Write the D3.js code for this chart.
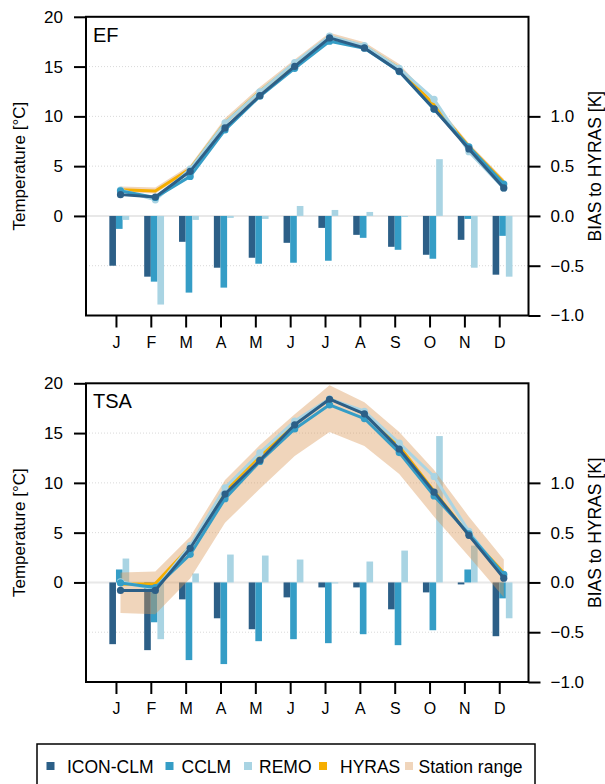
<!DOCTYPE html>
<html><head><meta charset="utf-8">
<script src="https://cdn.jsdelivr.net/npm/d3@7"></script>
<style>body{margin:0;background:#fff}svg{display:block;font-family:"Liberation Sans",Arial,sans-serif}</style>
</head><body><svg id="c" width="605" height="784"></svg>
<script>
const months = ["J","F","M","A","M","J","J","A","S","O","N","D"];
const tempTicks = [0,5,10,15,20];
const biasTicks = [-1.0,-0.5,0.0,0.5,1.0];
const seriesNames = ["ICON-CLM","CCLM","REMO","HYRAS","Station range"];

// EF panel
const efIcon  = [2.14, 1.90, 4.48, 8.84, 12.08, 15.03, 17.88, 16.87, 14.53, 10.75, 6.73, 2.81];
const efCclm  = [2.51, 1.85, 3.97, 8.64, 12.02, 14.83, 17.55, 16.84, 14.50, 10.71, 6.94, 3.20];
const efRemo  = [2.60, 1.62, 4.70, 9.34, 12.47, 15.40, 18.06, 17.10, 14.83, 11.71, 6.45, 2.79];
const efHyras = [2.64, 2.51, 4.74, 9.36, 12.50, 15.30, 18.00, 17.06, 14.84, 11.14, 6.97, 3.40];
const efStLow = [2.40, 2.25, 4.50, 9.10, 12.25, 15.05, 17.75, 16.80, 14.60, 10.90, 6.70, 3.15];
const efStHigh= [2.95, 2.85, 5.10, 9.80, 12.95, 15.70, 18.40, 17.45, 15.25, 11.50, 7.30, 3.70];
const efBiasIcon = [-0.50, -0.61, -0.26, -0.52, -0.42, -0.27, -0.12, -0.19, -0.31, -0.39, -0.24, -0.59];
const efBiasCclm = [-0.13, -0.66, -0.77, -0.72, -0.48, -0.47, -0.45, -0.22, -0.34, -0.43, -0.03, -0.20];
const efBiasRemo = [-0.04, -0.89, -0.04, -0.02, -0.03, 0.10, 0.06, 0.04, -0.01, 0.57, -0.52, -0.61];

// TSA panel
const tsaIcon  = [-0.80, -0.80, 3.43, 8.87, 12.27, 15.83, 18.40, 16.93, 13.40, 9.07, 4.73, 0.43];
const tsaCclm  = [-0.05, -0.52, 2.82, 8.41, 12.15, 15.41, 17.84, 16.46, 13.04, 8.69, 4.88, 0.81];
const tsaRemo  = [0.06, -0.69, 3.69, 9.51, 13.01, 16.21, 18.44, 17.19, 13.99, 10.64, 5.12, 0.61];
const tsaHyras = [-0.18, -0.12, 3.60, 9.23, 12.74, 15.98, 18.45, 16.98, 13.67, 9.17, 4.75, 0.97];
const tsaStLow = [-3.07, -3.20, 0.40, 6.00, 9.40, 12.70, 15.10, 13.70, 10.90, 6.60, 2.60, -1.50];
const tsaStHigh= [1.00, 1.10, 4.60, 10.30, 13.80, 16.90, 19.80, 18.10, 15.10, 11.30, 6.60, 2.30];
const tsaBiasIcon = [-0.62, -0.68, -0.17, -0.36, -0.47, -0.15, -0.05, -0.05, -0.27, -0.10, -0.02, -0.54];
const tsaBiasCclm = [0.13, -0.40, -0.78, -0.82, -0.59, -0.57, -0.61, -0.52, -0.63, -0.48, 0.13, -0.16];
const tsaBiasRemo = [0.24, -0.57, 0.09, 0.28, 0.27, 0.23, -0.01, 0.21, 0.32, 1.47, 0.37, -0.36];

const colors = {icon:"#2c5f87", cclm:"#359dc6", remo:"#a9d4e3", hyras:"#f6ae00", band:"#da9656"};

const panels = [
  {label:"EF", top:16.8, icon:efIcon, cclm:efCclm, remo:efRemo, hyras:efHyras, lo:efStLow, hi:efStHigh,
   bIcon:efBiasIcon, bCclm:efBiasCclm, bRemo:efBiasRemo},
  {label:"TSA", top:383.3, icon:tsaIcon, cclm:tsaCclm, remo:tsaRemo, hyras:tsaHyras, lo:tsaStLow, hi:tsaStHigh,
   bIcon:tsaBiasIcon, bCclm:tsaBiasCclm, bRemo:tsaBiasRemo}
];

const svg = d3.select("#c");
const left = 86, right = 528.5, ph = 298.7;
const x = d3.scaleLinear().domain([0.14, 12.84]).range([left, right]);
const bw = 0.19, ptOff = 0.13;
const idx = d3.range(12);
const FF = "Liberation Sans, Arial, sans-serif";

panels.forEach(p => {
  const g = svg.append("g");
  const yT = d3.scaleLinear().domain([-10, 20]).range([p.top + ph, p.top]);
  const yB = d3.scaleLinear().domain([-1, 2]).range([p.top + ph, p.top]);

  // grid
  [-5, 5, 10, 15].forEach(v => {
    g.append("line").attr("x1", left).attr("x2", right).attr("y1", yT(v)).attr("y2", yT(v))
      .attr("stroke", "#d9d9d9").attr("stroke-width", 1).attr("stroke-dasharray", "1,2");
  });
  g.append("line").attr("x1", left).attr("x2", right).attr("y1", yT(0)).attr("y2", yT(0))
    .attr("stroke", "#e8e8e8").attr("stroke-width", 2);

  // bars
  const bars = [[p.bIcon, colors.icon, -bw], [p.bCclm, colors.cclm, 0], [p.bRemo, colors.remo, bw]];
  bars.forEach(([vals, col, off]) => {
    g.selectAll(null).data(vals).join("rect")
      .attr("x", (d, i) => x(i + 1 + off))
      .attr("width", x(bw) - x(0))
      .attr("y", d => yB(Math.max(0, d)))
      .attr("height", d => Math.abs(yB(d) - yB(0)))
      .attr("fill", col);
  });

  // station band
  const area = d3.area().x(i => x(i + 1 + ptOff)).y0(i => yT(p.lo[i])).y1(i => yT(p.hi[i]));
  g.append("path").datum(idx).attr("d", area).attr("fill", colors.band).attr("fill-opacity", 0.4);

  // lines
  const line = vals => d3.line().x((d, i) => x(i + 1 + ptOff)).y(d => yT(d))(vals);
  g.append("path").attr("d", line(p.hyras)).attr("fill", "none").attr("stroke", colors.hyras).attr("stroke-width", 3);
  [[p.remo, colors.remo], [p.cclm, colors.cclm], [p.icon, colors.icon]].forEach(([vals, col]) => {
    g.append("path").attr("d", line(vals)).attr("fill", "none").attr("stroke", col).attr("stroke-width", 3)
      .attr("stroke-linejoin", "round");
    g.selectAll(null).data(vals).join("circle")
      .attr("cx", (d, i) => x(i + 1 + ptOff)).attr("cy", d => yT(d)).attr("r", 3.6).attr("fill", col);
  });

  // box
  g.append("rect").attr("x", left).attr("y", p.top).attr("width", right - left).attr("height", ph)
    .attr("fill", "none").attr("stroke", "#000").attr("stroke-width", 2);

  // left axis
  const la = d3.axisLeft(yT).tickValues(tempTicks).tickSize(12).tickPadding(11).tickFormat(d3.format("d"));
  const lg = g.append("g").attr("transform", `translate(${left},0)`).call(la);
  lg.select(".domain").remove();
  lg.selectAll(".tick line").attr("stroke", "#000").attr("stroke-width", 2);
  lg.selectAll(".tick text").attr("font-size", 17).attr("fill", "#000").attr("font-family", FF);

  // right axis
  const ra = d3.axisRight(yB).tickValues(biasTicks).tickSize(12).tickPadding(10).tickFormat(d3.format(".1f"));
  const rg = g.append("g").attr("transform", `translate(${right},0)`).call(ra);
  rg.select(".domain").remove();
  rg.selectAll(".tick line").attr("stroke", "#000").attr("stroke-width", 2);
  rg.selectAll(".tick text").attr("font-size", 17).attr("fill", "#000").attr("font-family", FF);

  // bottom axis
  const ba = d3.axisBottom(x).tickValues(d3.range(1, 13)).tickSize(12).tickPadding(9).tickFormat(d => months[d - 1]);
  const bg = g.append("g").attr("transform", `translate(0,${p.top + ph})`).call(ba);
  bg.select(".domain").remove();
  bg.selectAll(".tick line").attr("stroke", "#000").attr("stroke-width", 2);
  bg.selectAll(".tick text").attr("font-size", 16).attr("fill", "#000").attr("font-family", FF);

  // titles
  const cy = p.top + ph / 2;
  g.append("text").attr("transform", `translate(25,${cy}) rotate(-90)`).attr("text-anchor", "middle")
    .attr("font-size", 17).text("Temperature [°C]");
  g.append("text").attr("transform", `translate(601,${cy}) rotate(-90)`).attr("text-anchor", "middle")
    .attr("font-size", 17.5).text("BIAS to HYRAS [K]");
  g.append("text").attr("x", 93).attr("y", p.top + 25).attr("font-size", 20).text(p.label);
});

// legend
const lgd = svg.append("g");
lgd.append("rect").attr("x", 37).attr("y", 744).attr("width", 498).attr("height", 60)
  .attr("fill", "#fff").attr("stroke", "#000").attr("stroke-width", 1.5);
const legCols = [colors.icon, colors.cclm, colors.remo, colors.hyras, "#f0d5bb"];
const legMarkX = [50.5, 169.5, 248, 323, 409];
const legTextX = [67, 181.5, 259, 340, 418.5];
seriesNames.forEach((n, i) => {
  lgd.append("rect").attr("x", legMarkX[i] - 4).attr("y", 762).attr("width", 8).attr("height", 8).attr("fill", legCols[i]);
  lgd.append("text").attr("x", legTextX[i]).attr("y", 772.5).attr("font-size", 17.5).text(n);
});
</script></body></html>
